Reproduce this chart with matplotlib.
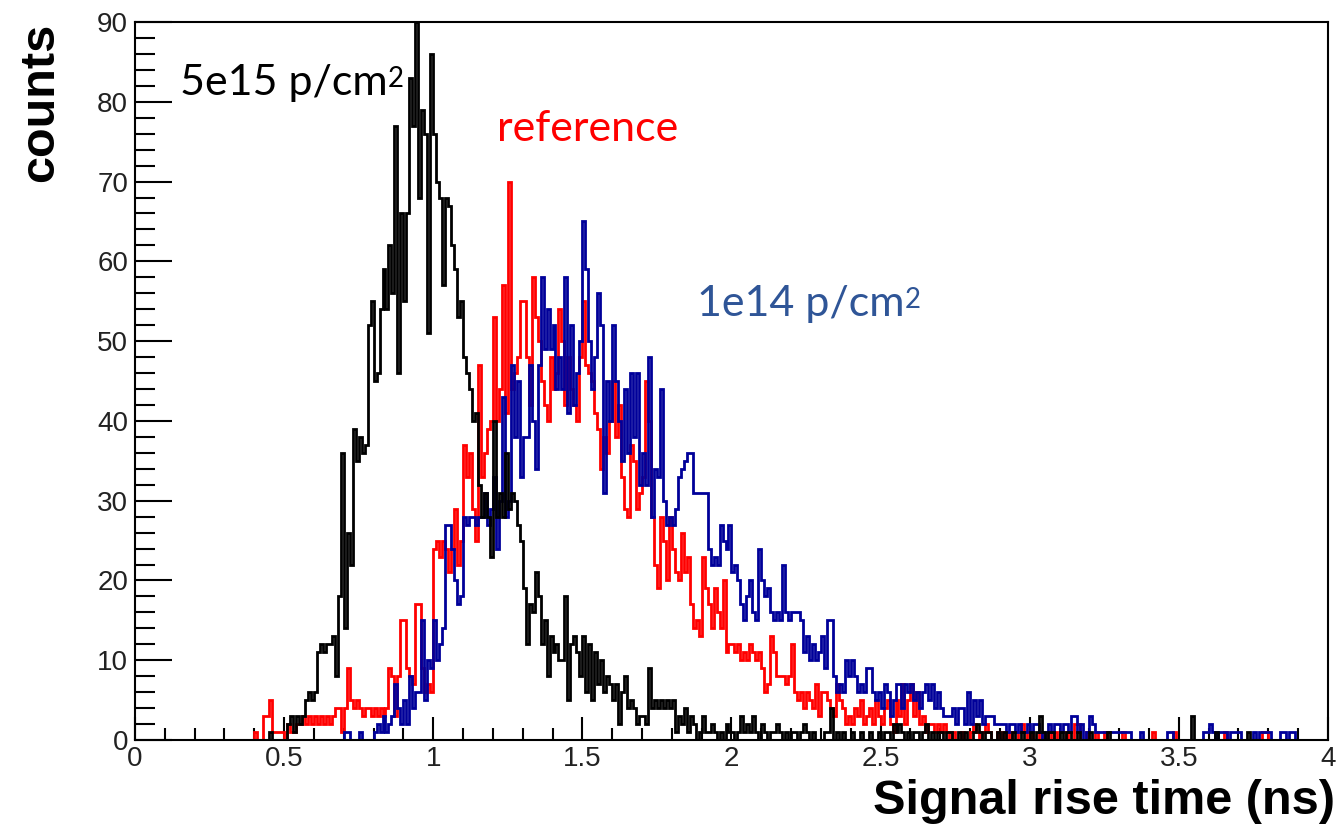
import numpy as np
import matplotlib
matplotlib.use("Agg")
import matplotlib.pyplot as plt
from matplotlib.ticker import MultipleLocator, FormatStrFormatter

# rise-time histograms, 0.01 ns bins from 0 to 4 ns
bin_width = 0.01
n_bins = 400

# 5e15 p/cm2 (bins 0.40 .. 3.99)
counts_5e15 = [0] * 40 + [
    0, 0, 0, 0, 0, 1, 0, 0, 0, 0,
    0, 2, 3, 1, 3, 2, 3, 5, 6, 5,
    6, 11, 12, 11, 12, 12, 13, 8, 18, 36,
    14, 26, 22, 39, 35, 38, 36, 37, 52, 55,
    45, 46, 54, 59, 54, 62, 56, 77, 46, 66,
    55, 66, 83, 77, 90, 68, 79, 76, 51, 86,
    76, 70, 68, 57, 68, 67, 62, 59, 53, 55,
    48, 46, 44, 40, 41, 32, 28, 31, 28, 23,
    40, 28, 31, 28, 36, 29, 31, 30, 27, 25,
    19, 12, 17, 16, 21, 18, 12, 15, 8, 13,
    11, 12, 10, 10, 18, 5, 12, 13, 11, 8,
    13, 6, 12, 5, 11, 7, 10, 6, 8, 7,
    5, 7, 2, 6, 8, 4, 5, 4, 2, 3,
    3, 2, 9, 4, 5, 4, 5, 4, 5, 4,
    5, 1, 3, 2, 4, 1, 3, 2, 0, 1,
    3, 1, 1, 2, 1, 0, 1, 0, 2, 1,
    1, 0, 1, 3, 1, 2, 1, 3, 1, 0,
    2, 1, 0, 1, 1, 2, 1, 0, 1, 0,
    1, 1, 0, 1, 2, 1, 0, 1, 0, 0,
    0, 1, 1, 4, 0, 1, 0, 1, 0, 0,
    1, 0, 0, 1, 0, 0, 1, 0, 0, 1,
    0, 1, 1, 0, 2, 1, 2, 1, 0, 1,
    0, 1, 1, 0, 1, 2, 0, 1, 0, 1,
    1, 0, 1, 1, 0, 0, 1, 0, 1, 0,
    0, 1, 2, 1, 0, 1, 1, 0, 0, 1,
    0, 1, 0, 0, 1, 0, 0, 1, 0, 0,
    1, 0, 1, 3, 1, 0, 1, 1, 0, 0,
    1, 0, 1, 1, 0, 0, 1, 0, 0, 0,
    1, 0, 0, 0, 0, 0, 1, 0, 0, 0,
    0, 0, 0, 0, 0, 0, 0, 0, 0, 0,
    0, 0, 0, 0, 0, 0, 0, 0, 0, 0,
    0, 0, 0, 0, 3, 0, 0, 0, 0, 0,
    0, 0, 1, 0, 0, 0, 0, 0, 0, 0,
    0, 0, 0, 1, 0, 0, 0, 0, 0, 0,
    0, 0, 0, 0, 0, 0, 0, 0, 0, 0,
    0, 0, 0, 0, 0, 0, 0, 0, 0, 0,
]

# unirradiated reference (bins 0.40 .. 3.99)
counts_ref = [0] * 40 + [
    1, 0, 0, 3, 3, 5, 1, 1, 1, 1,
    0, 2, 1, 1, 2, 2, 3, 2, 3, 2,
    3, 2, 3, 2, 3, 2, 3, 4, 4, 1,
    4, 9, 5, 4, 5, 4, 3, 4, 4, 3,
    4, 3, 4, 3, 4, 9, 8, 3, 8, 15,
    15, 9, 8, 7, 17, 17, 9, 6, 7, 6,
    24, 25, 23, 25, 24, 21, 24, 29, 22, 25,
    37, 33, 36, 29, 25, 47, 33, 36, 39, 40,
    53, 40, 44, 57, 41, 70, 44, 46, 48, 55,
    55, 48, 42, 58, 53, 50, 45, 42, 40, 48,
    44, 46, 54, 50, 42, 48, 44, 42, 40, 48,
    55, 47, 46, 45, 41, 39, 34, 38, 36, 40,
    45, 38, 42, 33, 29, 28, 37, 35, 29, 31,
    33, 45, 40, 28, 22, 19, 28, 25, 20, 28,
    24, 21, 20, 26, 21, 23, 17, 14, 15, 13,
    23, 19, 17, 14, 19, 16, 14, 20, 11, 12,
    12, 11, 12, 10, 11, 10, 12, 11, 10, 11,
    9, 6, 7, 13, 11, 8, 8, 8, 7, 8,
    12, 6, 5, 6, 4, 6, 5, 4, 7, 3,
    6, 6, 5, 4, 3, 7, 5, 4, 2, 3,
    2, 4, 3, 5, 2, 3, 4, 2, 5, 3,
    2, 4, 5, 2, 1, 5, 3, 7, 2, 5,
    7, 3, 6, 2, 3, 1, 2, 2, 1, 2,
    1, 2, 1, 0, 1, 0, 0, 1, 0, 0,
    1, 2, 1, 0, 1, 2, 1, 0, 0, 1,
    0, 1, 0, 1, 0, 0, 1, 2, 1, 0,
    1, 0, 0, 1, 0, 0, 1, 0, 1, 0,
    0, 0, 1, 0, 0, 2, 2, 0, 0, 1,
    0, 0, 1, 0, 0, 1, 0, 0, 0, 0,
    0, 1, 0, 0, 0, 0, 0, 0, 0, 0,
    0, 1, 0, 0, 0, 0, 0, 0, 1, 0,
    0, 0, 0, 0, 0, 0, 0, 0, 0, 0,
    0, 0, 0, 0, 0, 1, 0, 0, 0, 0,
    0, 0, 0, 0, 0, 0, 0, 0, 1, 1,
    0, 0, 0, 0, 0, 0, 0, 0, 0, 0,
    0, 0, 0, 0, 0, 0, 0, 0, 0, 0,
]

# 1e14 p/cm2 (bins 0.70 .. 3.99)
counts_1e14 = [0] * 70 + [
    1, 1, 0, 0, 0, 1, 0, 0, 0, 0,
    1, 2, 1, 3, 1, 2, 3, 7, 4, 2,
    5, 2, 8, 4, 6, 6, 15, 5, 10, 9,
    15, 10, 12, 14, 27, 27, 24, 20, 17, 18,
    28, 27, 28, 28, 27, 28, 28, 31, 27, 29,
    33, 24, 30, 43, 28, 30, 47, 38, 45, 33,
    38, 38, 47, 40, 34, 47, 58, 49, 54, 49,
    52, 44, 48, 44, 58, 41, 52, 42, 46, 50,
    65, 59, 50, 44, 48, 56, 52, 31, 45, 40,
    52, 45, 40, 35, 44, 36, 46, 38, 46, 32,
    36, 32, 48, 28, 34, 33, 44, 30, 27, 28,
    27, 29, 33, 34, 35, 36, 36, 31, 31, 31,
    31, 31, 24, 22, 23, 22, 27, 25, 24, 27,
    21, 22, 20, 17, 15, 18, 20, 16, 15, 24,
    20, 18, 19, 16, 15, 16, 15, 22, 16, 15,
    16, 16, 16, 15, 11, 13, 10, 12, 10, 11,
    13, 9, 15, 15, 8, 6, 7, 6, 10, 8,
    10, 8, 6, 7, 6, 9, 9, 6, 5, 6,
    4, 7, 6, 3, 5, 7, 7, 4, 7, 6,
    7, 5, 6, 4, 6, 7, 5, 7, 4, 6,
    4, 3, 3, 3, 4, 2, 4, 4, 2, 6,
    2, 5, 3, 5, 2, 3, 3, 3, 2, 2,
    2, 2, 1, 2, 2, 1, 2, 1, 1, 2,
    1, 2, 2, 1, 0, 1, 2, 1, 2, 2,
    1, 2, 2, 1, 3, 3, 1, 2, 0, 1,
    3, 2, 1, 1, 1, 1, 1, 1, 1, 1,
    1, 1, 1, 1, 0, 0, 0, 1, 0, 0,
    0, 0, 0, 0, 0, 0, 1, 1, 0, 0,
    0, 0, 0, 0, 0, 0, 0, 0, 1, 1,
    2, 1, 0, 1, 1, 1, 0, 1, 1, 1,
    1, 0, 0, 0, 0, 1, 0, 1, 1, 1,
    1, 0, 0, 0, 1, 1, 0, 1, 1, 0,
    0, 0, 0, 0, 0, 0, 0, 0, 0, 0,
]

edges = np.arange(n_bins + 1) * bin_width

fig = plt.figure(figsize=(13.43, 8.25), dpi=100)
ax = fig.add_axes([0.1005, 0.103, 0.8883, 0.8703])

lw = 2.0
ax.stairs(counts_ref, edges, color="#ff0000", lw=lw, zorder=2)
ax.stairs(counts_1e14, edges, color="#000099", lw=lw, zorder=3)
ax.stairs(counts_5e15, edges, color="black", lw=lw, zorder=4)

ax.set_xlim(0, 4)
ax.set_ylim(0, 90)

for s in ax.spines.values():
    s.set_linewidth(1.5)
    s.set_zorder(5)

ax.xaxis.set_major_locator(MultipleLocator(0.5))
ax.xaxis.set_minor_locator(MultipleLocator(0.1))
ax.yaxis.set_major_locator(MultipleLocator(10))
ax.yaxis.set_minor_locator(MultipleLocator(2))
ax.xaxis.set_major_formatter(FormatStrFormatter("%g"))
ax.yaxis.set_major_formatter(FormatStrFormatter("%g"))

ax.tick_params(axis="x", which="major", direction="in", length=16.5, width=1.5,
               labelsize=20, pad=4, top=False)
ax.tick_params(axis="x", which="minor", direction="in", length=8.5, width=1.5, top=False)
ax.tick_params(axis="y", which="major", direction="in", length=26.5, width=1.5,
               labelsize=20, pad=5, right=False)
ax.tick_params(axis="y", which="minor", direction="in", length=14.5, width=1.5, right=False)
for lab in ax.get_xticklabels() + ax.get_yticklabels():
    lab.set_family("Liberation Sans")
    lab.set_color("#222222")

# axis titles, ROOT style
fig.text(0.994, 0.028, "Signal rise time (ns)", ha="right", va="center",
         fontsize=35, fontweight="bold", family="Liberation Sans")
fig.text(0.030, 0.972, "counts", ha="center", va="top", rotation=90,
         fontsize=35, fontweight="bold", family="Liberation Sans")


def label(x, y, base, color):
    # text with a raised "2" after it
    t = ax.text(x, y, base, color=color, fontsize=31, family="Lato",
                ha="left", va="baseline")
    ax.annotate("2", xy=(1.0, 0.97), xycoords=t, color=color, fontsize=20,
                family="Lato", ha="left", va="top")
    return t


label(0.151, 80.8, "5e15 p/cm", "black")
ax.text(1.214, 75.1, "reference", color="#ff0000", fontsize=31, family="Lato",
        ha="left", va="baseline")
label(1.884, 53.1, "1e14 p/cm", "#2f5597")

fig.savefig("out.png", dpi=100)
